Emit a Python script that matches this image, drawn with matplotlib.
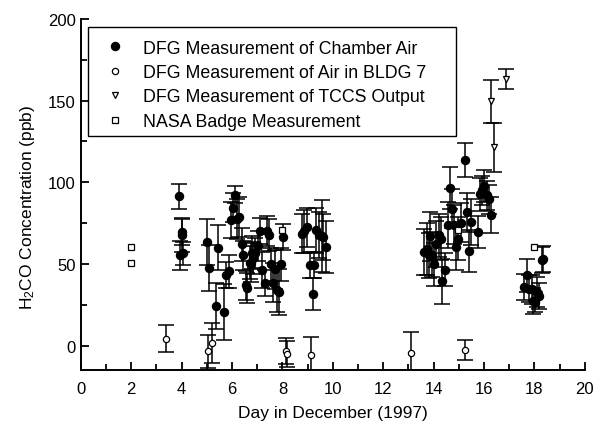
import matplotlib.pyplot as plt
from matplotlib.patches import Rectangle
import numpy as np

plt.rcParams['font.family'] = ['Liberation Sans', 'DejaVu Sans']
plt.rcParams['mathtext.fontset'] = 'custom'
plt.rcParams['mathtext.rm'] = 'Liberation Sans'
plt.rcParams['mathtext.it'] = 'Liberation Sans'

# DFG measurement of chamber air: day, ppb, error
chamber_day = [3.90, 4.03, 4.00, 4.06, 3.94,
               5.02, 5.10, 5.45, 5.36, 5.69, 5.78, 5.87,
               6.11, 6.02, 5.94, 6.28, 6.19, 6.38, 6.44, 6.55, 6.61, 6.80, 6.93, 6.84, 6.77, 6.71,
               7.04, 7.12, 7.20, 7.37, 7.45, 7.29, 7.53, 7.62, 7.70, 7.79, 7.87, 7.95, 8.03,
               8.78, 8.86, 8.96, 9.11, 9.27, 9.20, 9.35, 9.46, 9.55, 9.62, 9.71,
               13.61, 13.72, 13.81, 13.87, 13.94, 14.02, 14.11, 14.22, 14.30, 14.35, 14.44,
               14.58, 14.64, 14.73, 14.81, 14.90, 14.97, 15.07, 15.24, 15.33, 15.40, 15.48,
               15.77, 15.83, 15.90, 16.00, 16.12, 16.20, 16.27,
               17.59, 17.69, 17.79, 17.91, 17.95, 18.02, 18.11, 18.19, 18.28, 18.35]
chamber_ppb = [91.4, 69.8, 67.5, 56.5, 55.2,
               63.4, 47.7, 60.0, 24.3, 20.5, 43.0, 45.5,
               92.4, 84.4, 77.1, 78.7, 77.5, 62.0, 55.2, 36.9, 35.3, 56.9, 56.7, 53.6, 50.8, 50.8,
               61.0, 69.9, 46.5, 70.1, 67.7, 38.5, 49.7, 38.5, 46.7, 34.3, 33.0, 49.7, 66.5,
               68.5, 69.9, 72.5, 49.5, 49.5, 31.6, 70.5, 67.5, 66.9, 66.5, 60.4,
               57.3, 59.3, 55.2, 66.9, 55.7, 49.7, 62.4, 67.5, 65.4, 39.3, 46.5,
               73.6, 96.4, 83.8, 74.0, 60.3, 65.4, 75.2, 113.8, 81.5, 57.9, 75.7,
               69.5, 92.6, 95.0, 97.6, 92.0, 89.5, 79.7,
               35.8, 43.0, 34.9, 34.4, 27.3, 26.5, 32.8, 30.4, 52.2, 53.2]
chamber_err = [7.5, 8, 10, 7, 9,
               14, 14, 14, 14, 17, 8, 10,
               5, 9, 11, 12, 12, 10, 9, 9, 9, 10, 9, 10, 12, 10,
               9, 8, 11, 9, 10, 8, 10, 12, 12, 14, 14, 10, 8,
               12, 13, 12, 8, 8, 10, 14, 14, 22, 14, 16,
               14, 16, 14, 15, 14, 13, 14, 13, 13, 14, 10,
               14, 13, 12, 12, 14, 13, 12, 10.5, 12, 13, 14,
               10, 10, 9, 10, 9, 9, 11,
               8, 10, 8, 9, 8, 6, 9, 8, 8, 8]

# DFG measurement of air in BLDG 7
bldg_day = [3.37, 5.05, 5.19, 8.13, 8.18, 9.15, 13.12, 15.24]
bldg_ppb = [4.3, -3.5, 1.6, -3.5, -5.0, -5.5, -4.5, -2.6]
bldg_err = [8, 10, 12, 8, 8, 11, 13, 6]

# DFG measurement of TCCS output
tccs_day = [16.27, 16.40, 16.87]
tccs_ppb = [149.4, 121.4, 163.3]
tccs_err = [13, 15, 6]

# NASA badge measurement
nasa_day = [2.0, 2.0, 7.99, 14.97, 17.98]
nasa_ppb = [60.4, 50.6, 70.5, 71.0, 60.4]

fig = plt.figure(figsize=(6.03, 4.31), dpi=100)
ax = fig.add_axes([0.134, 0.139, 0.836, 0.815])

eb = dict(fmt='none', ecolor='black', elinewidth=1.1, capsize=5.5, capthick=1.1, zorder=2)
ax.errorbar(chamber_day, chamber_ppb, yerr=chamber_err, **eb)
ax.errorbar(bldg_day, bldg_ppb, yerr=bldg_err, **eb)
ax.errorbar(tccs_day, tccs_ppb, yerr=tccs_err, **eb)

ax.plot(chamber_day, chamber_ppb, 'o', color='black', ms=5.8, ls='none', zorder=3,
        label='DFG Measurement of Chamber Air')
ax.plot(bldg_day, bldg_ppb, 'o', mfc='white', mec='black', mew=0.9, ms=4.5, ls='none', zorder=3,
        label='DFG Measurement of Air in BLDG 7')
ax.plot(tccs_day, tccs_ppb, 'v', mfc='white', mec='black', mew=0.9, ms=5, ls='none', zorder=3,
        label='DFG Measurement of TCCS Output')
ax.plot(nasa_day, nasa_ppb, 's', mfc='white', mec='black', mew=0.9, ms=4, ls='none', zorder=3,
        label='NASA Badge Measurement')

ax.set_xlim(0, 20)
ax.set_ylim(-15, 200)
ax.set_xticks(np.arange(0, 21, 2))
ax.set_xticks(np.arange(1, 20, 2), minor=True)
ax.set_yticks([0, 50, 100, 150, 200])
ax.set_yticks([25, 75, 125, 175], minor=True)
ax.tick_params(which='both', direction='in', width=1.3, labelsize=12, top=False, right=False)
ax.tick_params(which='major', length=6)
ax.tick_params(which='minor', length=4)
ax.tick_params(axis='x', pad=8)
ax.spines['top'].set_visible(False)
ax.spines['right'].set_visible(False)
ax.spines['left'].set_linewidth(1.4)
ax.spines['bottom'].set_linewidth(1.4)

ax.set_xlabel('Day in December (1997)', fontsize=12.5, labelpad=6)
ax.set_ylabel(r'H$_2$CO Concentration (ppb)', fontsize=12.5, va='center')
ax.yaxis.set_label_coords(-0.105, 0.465)

leg = ax.legend(loc='upper left', bbox_to_anchor=(0.05, 0.941), fontsize=12.8,
                frameon=False, labelspacing=0.42,
                handlelength=1.0, handletextpad=1.1, borderpad=0, borderaxespad=0)
# legend frame, wider than the text as in the original
ax.add_patch(Rectangle((0.014, 0.667), 0.73, 0.31, transform=ax.transAxes,
                       fill=False, edgecolor='black', linewidth=1.0, zorder=4))

plt.savefig('out.png', dpi=100)
